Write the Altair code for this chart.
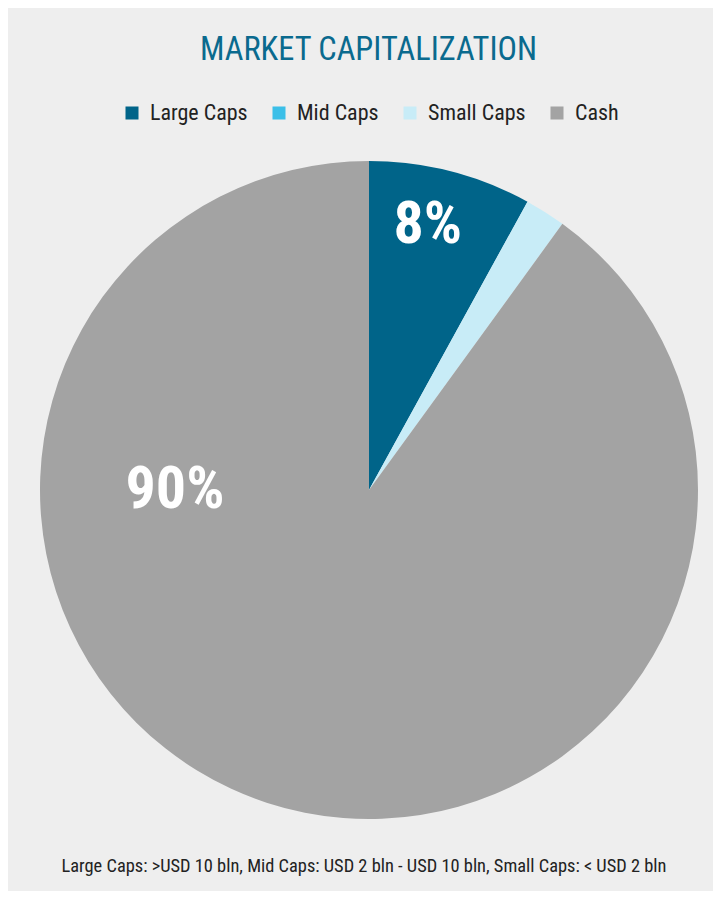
import altair as alt
import pandas as pd

categories = ["Large Caps", "Mid Caps", "Small Caps", "Cash"]
values = [8, 0, 2, 90]
labels = ["8%", "", "", "90%"]
colors = ["#006489", "#3bbfe8", "#c8ecf7", "#a3a3a3"]
footnote = "Large Caps: >USD 10 bln, Mid Caps: USD 2 bln - USD 10 bln, Small Caps: < USD 2 bln"

FONT = "Roboto Condensed, Liberation Sans Narrow, DejaVu Sans Condensed, Roboto"

df = pd.DataFrame({
    "category": categories,
    "value": values,
    "label": labels,
    "order": list(range(len(categories))),
})

CX, CY, R = 361, 412, 329

base = alt.Chart(df)

color = alt.Color(
    "category:N",
    scale=alt.Scale(domain=categories, range=colors),
    sort=categories,
    legend=alt.Legend(
        title=None,
        orient="none",
        direction="horizontal",
        legendX=113,
        legendY=24,
        symbolType="square",
        symbolSize=169,
        symbolStrokeWidth=0,
        labelFontSize=22,
        labelFont=FONT,
        labelFontWeight=400,
        labelColor="#222222",
        labelOffset=7,
        columnPadding=20,
    ),
)

arcs = base.mark_arc(radius=R, x=CX, y=CY, stroke=None).encode(
    theta=alt.Theta("value:Q", stack=True, scale=alt.Scale(domain=[0, 100])),
    color=color,
    order=alt.Order("order:Q"),
)

lab_base = base.transform_window(
    cum="sum(value)", sort=[alt.SortField("order", order="ascending")]
).transform_calculate(mid="datum.cum - datum.value / 2")

theta_mid = alt.Theta("mid:Q", stack=None, scale=alt.Scale(domain=[0, 100]))

lab_large = lab_base.transform_filter("datum.category == 'Large Caps'").mark_text(
    radius=271, x=CX, y=CY, fontSize=60, fontWeight="bold", font=FONT, color="white",
    thetaOffset=-0.033,
).encode(theta=theta_mid, text="label:N")

lab_cash = lab_base.transform_filter("datum.category == 'Cash'").mark_text(
    radius=194, x=CX, y=CY, fontSize=60, fontWeight="bold", font=FONT, color="white",
    thetaOffset=1.2566,
).encode(theta=theta_mid, text="label:N")

note = alt.Chart(pd.DataFrame({"t": [footnote]})).mark_text(
    fontSize=18.4, font=FONT, fontWeight=400, color="#222222", baseline="middle", align="center"
).encode(x=alt.value(356), y=alt.value(788), text="t:N")

chart = alt.layer(arcs, lab_large, lab_cash, note).properties(
    width=705,
    height=813,
    autosize=alt.AutoSizeParams(type="none"),
    padding={"left": 0, "top": 70, "right": 0, "bottom": 0},
    background="#eeeeee",
    title=alt.TitleParams(
        "MARKET CAPITALIZATION",
        anchor="middle",
        fontSize=32.4,
        font=FONT,
        fontWeight=400,
        color="#0a6a8e",
        offset=12,
        dx=8,
    ),
).configure_view(stroke=None)

chart.save("out.html", embed_options={"renderer": "svg", "actions": False})
